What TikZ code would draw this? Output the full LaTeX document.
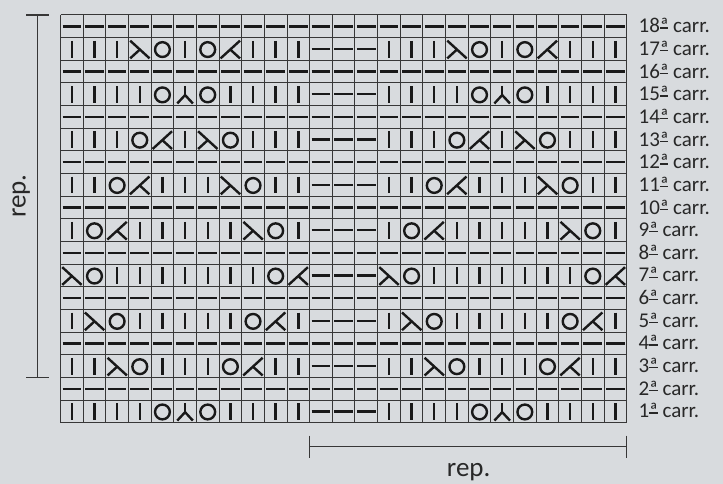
\documentclass[tikz,border=0pt]{standalone}
\usepackage{fontspec}
\setmainfont{Carlito}
\definecolor{bgc}{RGB}{216,219,222}
\definecolor{gridc}{RGB}{55,55,55}
\definecolor{symc}{RGB}{25,25,25}
\definecolor{txtc}{RGB}{40,40,40}
\newcommand\cellK{\draw[sym] (0,-8.2) -- (0,8.6);}
\newcommand\cellP{\draw[sym] (-9.3,0) -- (9.3,0);}
\newcommand\cellO{\draw[sym] (0,0.6) circle[radius=7.4];}
\newcommand\cellL{\draw[sym] (-9.6,-8.3) -- (9.8,9.4); \draw[sym] (0.1,0.55) -- (-9.6,9.4);}
\newcommand\cellR{\draw[sym] (9.6,-8.3) -- (-9.8,9.4); \draw[sym] (-0.1,0.55) -- (9.6,9.4);}
\newcommand\cellY{\draw[sym] (0,-8.4) -- (0,0.8); \draw[sym] (-7.8,9.2) -- (0,0.8) -- (7.8,9.2);}
\newcommand\ordf{\setbox0\hbox{ª}\rlap{\copy0}\raisebox{0.2em}{\rule{\wd0}{0.06em}}}
\begin{document}
\begin{tikzpicture}[x=1pt,y=-1pt,
  sym/.style={draw=symc,line width=2.4pt},
  gridline/.style={draw=gridc,line width=1pt},
  bracket/.style={draw=gridc,line width=1.2pt},
  lab/.style={text=txtc,font=\fontsize{21}{24}\selectfont,inner sep=0pt},
  replab/.style={text=txtc,font=\fontsize{27}{30}\selectfont,inner sep=0pt}]
\fill[bgc] (0,0) rectangle (723,484);
\useasboundingbox (0,0) rectangle (723,484);
\def\gx{60.5}
\def\gy{15}
\def\cs{22.65}
\pgfmathsetmacro\gr{\gx+25*\cs}
\pgfmathsetmacro\gb{\gy+18*\cs}
% grid
\foreach \i in {0,...,25}{
  \draw[gridline] ({\gx+\i*\cs},\gy) -- ({\gx+\i*\cs},\gb);
}
\foreach \j in {0,...,18}{
  \draw[gridline] (\gx,{\gy+\j*\cs}) -- (\gr,{\gy+\j*\cs});
}
% even rows: purl everywhere
\foreach \rr in {2,4,...,18}{
  \pgfmathsetmacro\yc{\gy+(18.5-\rr)*\cs}
  \foreach \i in {1,...,25}{
    \pgfmathsetmacro\xa{\gx+(\i-0.5)*\cs}
    \begin{scope}[shift={(\xa,\yc)}]\cellP\end{scope}
  }
}
% odd rows
\foreach \rr/\pat in {1/{K,K,K,K,O,Y,O,K,K,K,K},
                      3/{K,K,L,O,K,K,K,O,R,K,K},
                      5/{K,L,O,K,K,K,K,K,O,R,K},
                      7/{L,O,K,K,K,K,K,K,K,O,R},
                      9/{K,O,R,K,K,K,K,K,L,O,K},
                      11/{K,K,O,R,K,K,K,L,O,K,K},
                      13/{K,K,K,O,R,K,L,O,K,K,K},
                      15/{K,K,K,K,O,Y,O,K,K,K,K},
                      17/{K,K,K,L,O,K,O,R,K,K,K}}{
  \pgfmathsetmacro\yc{\gy+(18.5-\rr)*\cs}
  \foreach \sy [count=\i] in \pat {
    \pgfmathsetmacro\xa{\gx+(\i-0.5)*\cs}
    \pgfmathsetmacro\xb{\gx+(\i+13.5)*\cs}
    \begin{scope}[shift={(\xa,\yc)}]\csname cell\sy\endcsname\end{scope}
    \begin{scope}[shift={(\xb,\yc)}]\csname cell\sy\endcsname\end{scope}
  }
  \foreach \i in {12,13,14}{
    \pgfmathsetmacro\xa{\gx+(\i-0.5)*\cs}
    \begin{scope}[shift={(\xa,\yc)}]\cellP\end{scope}
  }
}
% row labels
\foreach \rr in {1,...,18}{
  \node[lab,anchor=base west] (lab\rr) at (638.5,{\gy+(18.5-\rr)*\cs+6.5}) {\rr\ordf{} carr.};
}
% left bracket
\coordinate (lt) at (37.7,\gy);
\coordinate (lb) at (37.7,{\gy+16*\cs});
\draw[bracket] (lt) -- (lb);
\draw[bracket] ([xshift=-11.7pt]lt) -- ([xshift=11.7pt]lt);
\draw[bracket] ([xshift=-11.7pt]lb) -- ([xshift=11.7pt]lb);
\node[replab,rotate=90,anchor=base] (repl) at (25.5,{\gy+8*\cs}) {rep.};
% bottom bracket
\coordinate (bl) at ({\gx+11*\cs},446.7);
\coordinate (br) at (\gr,446.7);
\draw[bracket] (bl) -- (br);
\draw[bracket] ([yshift=11pt]bl) -- ([yshift=-11pt]bl);
\draw[bracket] ([yshift=11pt]br) -- ([yshift=-11pt]br);
\node[replab,anchor=base] (repb) at (468.7,476) {rep.};
\end{tikzpicture}
\end{document}
